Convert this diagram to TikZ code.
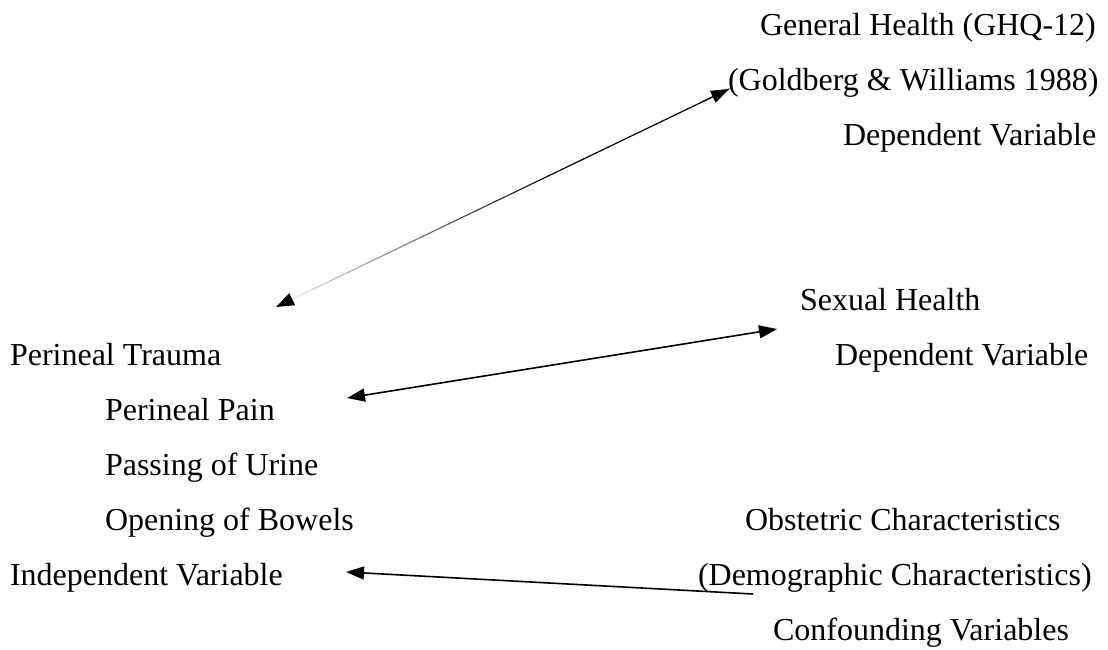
\documentclass[tikz,border=0pt]{standalone}
\usepackage{fontspec}
\setmainfont{Liberation Serif}
\usetikzlibrary{arrows.meta,calc}
\tikzset{
  lbl/.style={anchor=base west, inner sep=0pt, outer sep=0pt, font=\fontsize{32}{38}\selectfont},
  >={Triangle[length=18pt,width=13pt,color=black]},
  conn/.style={line width=1.6pt, black}
}
\begin{document}
\begin{tikzpicture}[x=1pt,y=-1pt]
\fill[white] (0,0) rectangle (1108,649);
\useasboundingbox (0,0) rectangle (1108,649);
% right-hand texts
\node[lbl] (gh)  at (760,35)  {General Health (GHQ-12)};
\node[lbl] (gw)  at (728,90)  {(Goldberg \& Williams 1988)};
\node[lbl] (dv1) at (843,145) {Dependent Variable};
\node[lbl] (sh)  at (800,310) {Sexual Health};
\node[lbl] (dv2) at (835,365) {Dependent Variable};
\node[lbl] (oc)  at (745,530) {Obstetric Characteristics};
\node[lbl] (dc)  at (698,585) {(Demographic Characteristics)};
\node[lbl] (cv)  at (773,640) {Confounding Variables};
% left-hand texts
\node[lbl] (pt)  at (10,365)  {Perineal Trauma};
\node[lbl] (pp)  at (105,420) {Perineal Pain};
\node[lbl] (pu)  at (105,475) {Passing of Urine};
\node[lbl] (ob)  at (105,530) {Opening of Bowels};
\node[lbl] (iv)  at (10,585)  {Independent Variable};
% connector end points
\coordinate (a1) at (276,307);
\coordinate (a2) at (729,89);
\coordinate (b1) at (347,398);
\coordinate (b2) at (777,329);
\coordinate (c1) at (753,594);
\coordinate (c2) at (346,572);
% fading arrow (General Health)
\foreach \i [evaluate=\i as \t using \i/25, evaluate=\i as \u using (\i+1)/25,
             evaluate=\i as \c using {min(100,8+\i*6)}] in {0,...,24} {
  \draw[line width=1.2pt, black!\c, line cap=round] ($(a1)!\t!(a2)$) -- ($(a1)!\u!(a2)$);
}
\draw[line width=1.2pt, black!8, <-] (a1) -- ($(a1)!0.06!(a2)$);
\draw[line width=1.2pt, black, ->] ($(a1)!0.94!(a2)$) -- (a2);
% Sexual Health arrow
\draw[conn, <->] (b1) -- (b2);
% Confounding arrow
\draw[conn, ->] (c1) -- (c2);
\end{tikzpicture}
\end{document}
